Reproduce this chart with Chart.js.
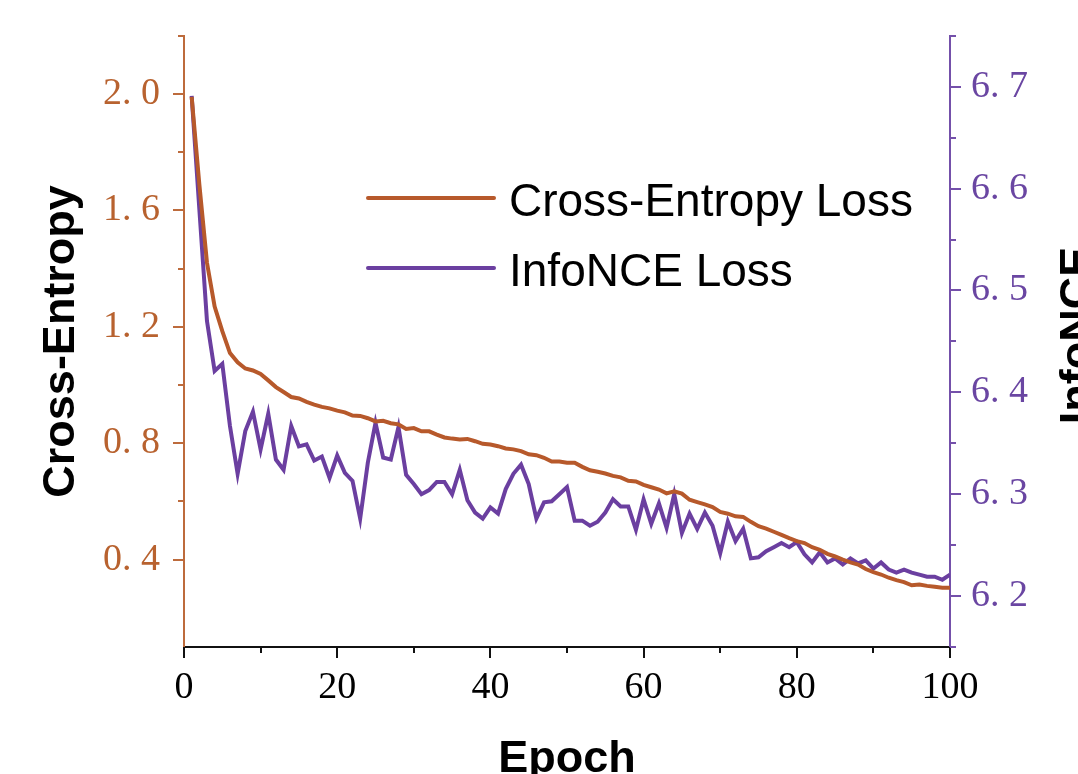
<!DOCTYPE html>
<html><head><meta charset="utf-8">
<script src="https://cdn.jsdelivr.net/npm/chart.js@4.4.0/dist/chart.umd.min.js"></script>
<style>html,body{margin:0;padding:0;background:#fff;overflow:hidden}canvas{display:block}</style>
</head><body>
<canvas id="c" width="1078" height="774"></canvas>
<script>
const epochs = Array.from({length: 100}, (_, i) => i + 1);

const crossEntropy = [
  1.99, 1.69, 1.42, 1.27, 1.185, 1.11, 1.078, 1.057, 1.05, 1.038,
  1.016, 0.993, 0.976, 0.959, 0.954, 0.942, 0.933, 0.925, 0.920, 0.912,
  0.906, 0.895, 0.894, 0.886, 0.875, 0.877, 0.869, 0.865, 0.849, 0.852,
  0.841, 0.841, 0.830, 0.820, 0.816, 0.813, 0.815, 0.807, 0.798, 0.796,
  0.790, 0.782, 0.779, 0.773, 0.762, 0.759, 0.750, 0.737, 0.737, 0.733,
  0.733, 0.719, 0.707, 0.702, 0.696, 0.688, 0.683, 0.671, 0.669, 0.657,
  0.649, 0.641, 0.628, 0.635, 0.627, 0.606, 0.598, 0.590, 0.581, 0.564,
  0.558, 0.549, 0.547, 0.530, 0.515, 0.507, 0.496, 0.485, 0.474, 0.464,
  0.457, 0.443, 0.434, 0.420, 0.411, 0.400, 0.391, 0.383, 0.368, 0.357,
  0.349, 0.338, 0.330, 0.323, 0.312, 0.315, 0.310, 0.307, 0.304, 0.304
];

const infoNCE = [
  6.691, 6.580, 6.470, 6.421, 6.428, 6.367, 6.320, 6.362, 6.381, 6.344,
  6.379, 6.334, 6.324, 6.367, 6.347, 6.349, 6.333, 6.337, 6.316, 6.338,
  6.321, 6.313, 6.276, 6.331, 6.370, 6.336, 6.334, 6.366, 6.319, 6.310,
  6.300, 6.304, 6.312, 6.312, 6.300, 6.324, 6.294, 6.282, 6.276, 6.287,
  6.281, 6.305, 6.320, 6.329, 6.310, 6.276, 6.292, 6.293, 6.300, 6.307,
  6.274, 6.274, 6.269, 6.273, 6.282, 6.295, 6.288, 6.288, 6.265, 6.295,
  6.271, 6.291, 6.267, 6.300, 6.262, 6.281, 6.266, 6.282, 6.269, 6.242,
  6.273, 6.254, 6.266, 6.237, 6.238, 6.244, 6.248, 6.252, 6.248, 6.253,
  6.241, 6.233, 6.243, 6.233, 6.237, 6.231, 6.237, 6.232, 6.235, 6.227,
  6.233, 6.226, 6.223, 6.226, 6.223, 6.221, 6.219, 6.219, 6.216, 6.221
];

const xTickLabels = [0, 20, 40, 60, 80, 100];
const leftTickLabels = [0.4, 0.8, 1.2, 1.6, 2.0];
const rightTickLabels = [6.2, 6.3, 6.4, 6.5, 6.6, 6.7];

const ORANGE = '#B7592B';
const ORANGE_AXIS = '#BD6B3C';
const ORANGE_TXT = '#B8622F';
const PURPLE = '#6B3FA0';
const PURPLE_AXIS = '#7450AA';
const PURPLE_TXT = '#6A46A2';
const SANS = '"Liberation Sans", Arial, sans-serif';
const SERIF = '"Liberation Serif", "DejaVu Serif", serif';

const near = (a, b) => Math.abs(a - b) < 1e-6;
const inList = (v, list) => list.some(t => near(v, t));
const isMult = (v, step) => Math.abs(v / step - Math.round(v / step)) < 1e-6;
const fmt = v => v.toFixed(1).replace('.', '. ');

const tickPlugin = {
  id: 'ticksAndExtras',
  afterDraw(chart) {
    const ctx = chart.ctx;
    const defs = [
      {id: 'x', labels: xTickLabels, minor: 10, color: '#111111'},
      {id: 'yL', labels: leftTickLabels, minor: 0.2, color: ORANGE_AXIS},
      {id: 'yR', labels: rightTickLabels, minor: 0.05, color: PURPLE_AXIS}
    ];
    ctx.save();
    ctx.lineWidth = 2;
    defs.forEach(d => {
      const s = chart.scales[d.id];
      ctx.strokeStyle = d.color;
      s.ticks.forEach(t => {
        const v = t.value;
        let len = 0;
        if (inList(v, d.labels)) len = 11;
        else if (isMult(v, d.minor)) len = 6;
        if (!len) return;
        const p = Math.round(s.getPixelForValue(v));
        ctx.beginPath();
        if (d.id === 'x') { ctx.moveTo(p, s.top); ctx.lineTo(p, s.top + len); }
        else if (d.id === 'yL') { ctx.moveTo(s.right, p); ctx.lineTo(s.right - len, p); }
        else { ctx.moveTo(s.left, p); ctx.lineTo(s.left + len, p); }
        ctx.stroke();
      });
    });

    // right axis title (reads bottom-to-top)
    const yR = chart.scales.yR;
    ctx.fillStyle = '#000';
    ctx.font = 'bold 45px ' + SANS;
    ctx.textAlign = 'center';
    ctx.textBaseline = 'alphabetic';
    ctx.translate(1091, (yR.top + yR.bottom) / 2 - 6);
    ctx.rotate(-Math.PI / 2);
    ctx.fillText('InfoNCE', 0, 0);
    ctx.restore();

    // legend inside plot
    ctx.save();
    const rows = [198, 268];
    chart.data.datasets.forEach((ds, i) => {
      const y = rows[i];
      ctx.strokeStyle = ds.borderColor;
      ctx.lineWidth = 4;
      ctx.lineCap = 'round';
      ctx.beginPath();
      ctx.moveTo(368, y);
      ctx.lineTo(494, y);
      ctx.stroke();
      ctx.fillStyle = '#000';
      ctx.font = '46px ' + SANS;
      ctx.textAlign = 'left';
      ctx.textBaseline = 'alphabetic';
      ctx.fillText(ds.label, 509, y + 18);
    });
    ctx.restore();
  }
};

new Chart(document.getElementById('c'), {
  type: 'line',
  data: {
    datasets: [
      {
        label: 'Cross-Entropy Loss',
        data: epochs.map((e, i) => ({x: e, y: crossEntropy[i]})),
        borderColor: ORANGE,
        borderWidth: 4,
        pointRadius: 0,
        tension: 0,
        yAxisID: 'yL'
      },
      {
        label: 'InfoNCE Loss',
        data: epochs.map((e, i) => ({x: e, y: infoNCE[i]})),
        borderColor: PURPLE,
        borderWidth: 4,
        pointRadius: 0,
        tension: 0,
        yAxisID: 'yR'
      }
    ]
  },
  options: {
    responsive: false,
    animation: false,
    layout: {padding: {top: 30, left: 0, right: 0, bottom: 0}},
    plugins: {legend: {display: false}, tooltip: {enabled: false}},
    scales: {
      x: {
        type: 'linear',
        min: 0, max: 100,
        afterFit: s => { s.height = 127; },
        border: {display: true, color: '#111111', width: 2},
        grid: {drawOnChartArea: false, drawTicks: true, tickLength: 11, tickColor: 'rgba(0,0,0,0)'},
        ticks: {
          stepSize: 10, autoSkip: false, maxRotation: 0, padding: 7,
          color: '#000',
          font: {family: SERIF, size: 38},
          callback: v => inList(v, xTickLabels) ? String(v) : ''
        },
        title: {
          display: true, text: 'Epoch', color: '#000',
          font: {family: SANS, size: 45, weight: 'bold', lineHeight: 1.2},
          padding: {top: 0, bottom: -13}
        }
      },
      yL: {
        type: 'linear', position: 'left',
        min: 0.1, max: 2.2,
        afterFit: s => { s.width = 184; },
        border: {display: true, color: ORANGE_AXIS, width: 2},
        grid: {drawOnChartArea: false, drawTicks: true, tickLength: 11, tickColor: 'rgba(0,0,0,0)'},
        ticks: {
          stepSize: 0.2, autoSkip: false, padding: 13,
          color: ORANGE_TXT,
          font: {family: SERIF, size: 38},
          callback: v => inList(v, leftTickLabels) ? fmt(v) : ''
        },
        title: {
          display: true, text: 'Cross-Entropy', color: '#000',
          font: {family: SANS, size: 45, weight: 'bold', lineHeight: 1.2},
          padding: {top: 35, bottom: 0}
        }
      },
      yR: {
        type: 'linear', position: 'right',
        min: 6.15, max: 6.75,
        afterFit: s => { s.width = 128; },
        border: {display: true, color: PURPLE_AXIS, width: 2},
        grid: {drawOnChartArea: false, drawTicks: true, tickLength: 11, tickColor: 'rgba(0,0,0,0)'},
        ticks: {
          stepSize: 0.05, autoSkip: false, padding: 10,
          color: PURPLE_TXT,
          font: {family: SERIF, size: 38},
          callback: v => inList(v, rightTickLabels) ? fmt(v) : ''
        }
      }
    }
  },
  plugins: [tickPlugin]
});
</script>
</body></html>
